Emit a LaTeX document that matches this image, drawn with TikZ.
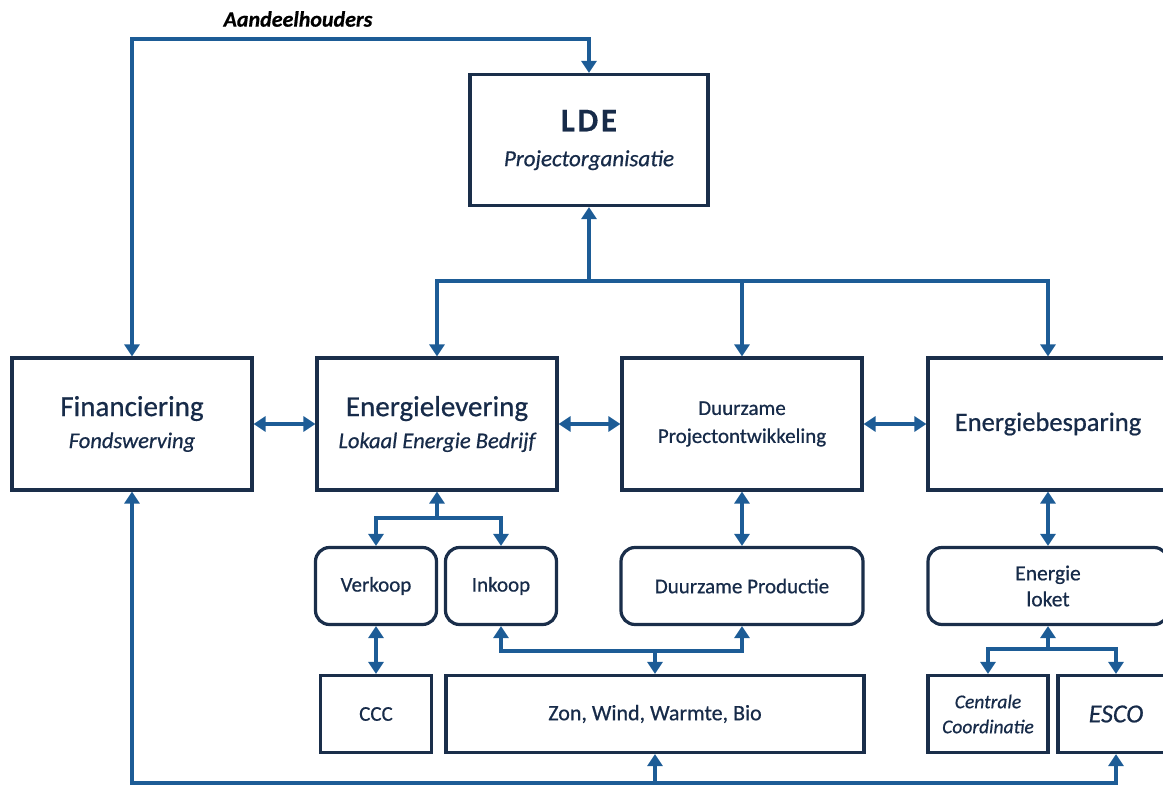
\documentclass[tikz,border=0pt]{standalone}
\usepackage{fontspec}
\setmainfont{Carlito}[FakeBold=0.6, BoldFeatures={FakeBold=0.3}]
\usepackage{tikz}
\usetikzlibrary{arrows.meta, positioning, calc}
\definecolor{boxnavy}{HTML}{1A2E4A}
\definecolor{flowblue}{HTML}{1D5C96}
\definecolor{textnavy}{HTML}{172B49}

\tikzset{
  unit/.style={draw=boxnavy, line width=3.2pt, fill=white, text=textnavy,
    align=center, inner sep=0pt},
  subunit/.style={unit, rounded corners=14pt},
  flow/.style={draw=flowblue, line width=4.8pt,
    -{Triangle[length=12pt,width=15pt]}},
  twoway/.style={flow, {Triangle[length=12pt,width=15pt]}-{Triangle[length=12pt,width=15pt]}},
  big/.style={font=\fontsize{29}{30}\selectfont},
  mid/.style={font=\fontsize{21}{28}\selectfont},
}

\begin{document}
\begin{tikzpicture}[x=1pt, y=-1pt]
    \useasboundingbox (0,0) rectangle (1163,787);
    \clip (0,0) rectangle (1163,787);

    % Top of the organisation
    \node[unit, minimum width=238pt, minimum height=131pt] (lde) at (589,140)
      {{\fontsize{33}{34}\selectfont\bfseries\addfontfeatures{LetterSpace=8}LDE}\\[18pt]
       {\fontsize{23}{24}\selectfont\itshape Projectorganisatie}};

    % Main row
    \node[unit, big, minimum width=240pt, minimum height=132pt] (fin) at (132,424)
      {Financiering\\[2pt]{\fontsize{22.5}{24}\selectfont\itshape Fondswerving}};
    \node[unit, big, minimum width=240pt, minimum height=132pt] (lev) at (437,424)
      {Energielevering\\[2pt]{\fontsize{22.5}{24}\selectfont\itshape Lokaal Energie Bedrijf}};
    \node[unit, minimum width=240pt, minimum height=132pt,
      font=\fontsize{21}{28}\selectfont] (dpo) at (742,424)
      {Duurzame\\Projectontwikkeling};
    \node[unit, minimum width=240pt, minimum height=132pt,
      font=\fontsize{26.5}{30}\selectfont] (bes) at (1048,424) {Energiebesparing};

    % Second row
    \node[subunit, mid, minimum width=121pt, minimum height=77pt] (verkoop) at (376,586) {Verkoop};
    \node[subunit, mid, minimum width=111pt, minimum height=77pt] (inkoop) at (501,586) {Inkoop};
    \node[subunit, mid, minimum width=242pt, minimum height=77pt] (dp) at (742,586) {Duurzame Productie};
    \node[subunit, mid, minimum width=240pt, minimum height=77pt,
      font=\fontsize{21.5}{26}\selectfont] (loket) at (1048,586) {Energie\\loket};

    % Bottom row
    \node[unit, mid, minimum width=111pt, minimum height=77pt] (ccc) at (376,714) {CCC};
    \node[unit, mid, minimum width=418pt, minimum height=77pt,
      font=\fontsize{22}{28}\selectfont] (zon) at (655,714) {Zon, Wind, Warmte, Bio};
    \node[unit, minimum width=120pt, minimum height=77pt,
      font=\fontsize{19.5}{25}\selectfont\itshape] (centraal) at (988,714) {Centrale\\Coordinatie};
    \node[unit, minimum width=116pt, minimum height=77pt,
      font=\fontsize{26}{28}\selectfont\itshape] (esco) at (1116,714) {ESCO};

    % Shareholders loop
    \coordinate (share) at (132,39);
    \draw[twoway] (fin.north) -- (share) -| (lde.north);
    \node[font=\fontsize{22}{24}\selectfont\bfseries\itshape] (holders) at (298,19) {Aandeelhouders};

    % Bus under LDE
    \coordinate (hub) at (589,281);
    \draw[flow] (hub) -- (lde.south);
    \draw[flow] (hub) -| (lev.north);
    \draw[flow] (hub) -| (dpo.north);
    \draw[flow] (hub) -| (bes.north);

    % Links in the main row
    \draw[twoway] (fin.east) -- (lev.west);
    \draw[twoway] (lev.east) -- (dpo.west);
    \draw[twoway] (dpo.east) -- (bes.west);

    % Supply side
    \coordinate (salesfork) at (437,518);
    \draw[flow] (salesfork) -- (lev.south);
    \draw[flow] (salesfork) -| (verkoop.north);
    \draw[flow] (salesfork) -| (inkoop.north);
    \draw[twoway] (verkoop.south) -- (ccc.north);

    % Production side
    \draw[twoway] (dpo.south) -- (dp.north);
    \coordinate (prodfork) at (655,651);
    \draw[flow] (prodfork) -| (inkoop.south);
    \draw[flow] (prodfork) -| (dp.south);
    \draw[flow] (prodfork) -- (zon.north);

    % Savings side
    \draw[twoway] (bes.south) -- (loket.north);
    \coordinate (loketfork) at (1048,649);
    \draw[flow] (loketfork) -- (loket.south);
    \draw[flow] (loketfork) -| (centraal.north);
    \draw[flow] (loketfork) -| (esco.north);

    % Funding line along the bottom
    \coordinate (base) at (655,783);
    \draw[flow] (base) -| (fin.south);
    \draw[flow] (base) -- (zon.south);
    \draw[flow] (base) -| (esco.south);
\end{tikzpicture}
\end{document}
